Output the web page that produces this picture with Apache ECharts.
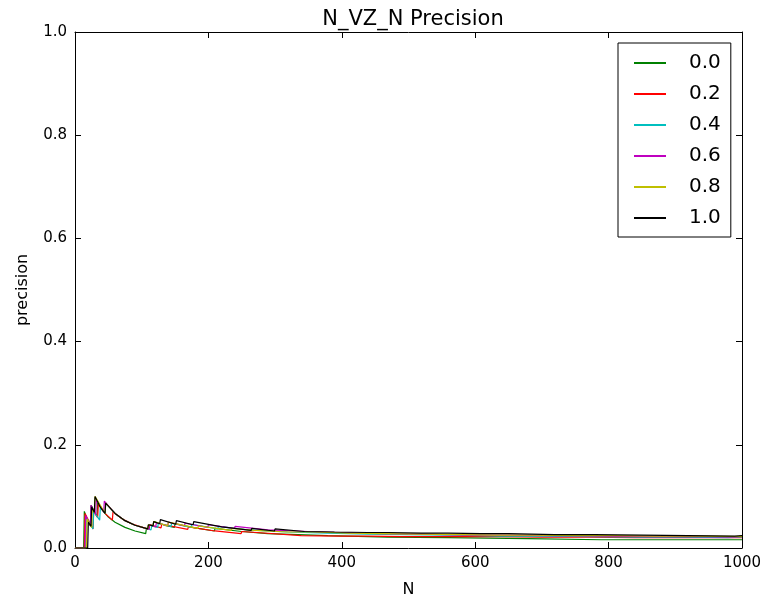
<!DOCTYPE html>
<html>
<head>
<meta charset="utf-8">
<title>N_VZ_N Precision</title>
<script src="https://cdn.jsdelivr.net/npm/echarts@6/dist/echarts.min.js"></script>
<style>
  html, body { margin: 0; padding: 0; background: #fff; }
  #chart { width: 765px; height: 600px; }
</style>
</head>
<body>
<div id="chart"></div>
<script>
// legend names
var names = ['0.0', '0.2', '0.4', '0.6', '0.8', '1.0'];
var colors = ['#008000', '#ff0000', '#00bfbf', '#bf00bf', '#bfbf00', '#000000'];

// [N, precision]
var p00 = [[0,0],[13,0],[14,0.071],[18,0.056],[23,0.043],[24,0.083],[33,0.061],[34,0.088],[40,0.075],[50,0.06],[60,0.05],[75,0.04],[90,0.033],[106,0.028],[107,0.037],[111,0.036],[112,0.045],[117,0.043],[118,0.051],[135,0.044],[149,0.04],[150,0.047],[180,0.039],[209,0.033],[210,0.038],[250,0.032],[289,0.028],[290,0.031],[379,0.024],[380,0.026],[469,0.021],[470,0.023],[559,0.02],[560,0.021],[679,0.018],[680,0.019],[789,0.016],[790,0.018],[879,0.016],[880,0.017],[959,0.016],[960,0.017],[1000,0.016]];
var p02 = [[0,0],[14,0],[15,0.067],[27,0.037],[28,0.071],[34,0.059],[35,0.086],[45,0.067],[56,0.054],[57,0.07],[70,0.057],[85,0.047],[111,0.036],[112,0.045],[129,0.039],[130,0.046],[169,0.036],[170,0.041],[210,0.033],[249,0.028],[250,0.032],[339,0.024],[340,0.026],[399,0.023],[400,0.025],[439,0.023],[440,0.025],[489,0.022],[490,0.024],[539,0.022],[540,0.024],[589,0.022],[590,0.024],[639,0.022],[640,0.023],[699,0.021],[700,0.023],[769,0.021],[770,0.022],[839,0.02],[840,0.021],[909,0.02],[910,0.021],[969,0.02],[970,0.021],[1000,0.02]];
var p04 = [[0,0],[16,0],[17,0.059],[27,0.037],[28,0.071],[37,0.054],[38,0.079],[45,0.067],[46,0.087],[60,0.067],[75,0.053],[90,0.044],[114,0.035],[115,0.043],[124,0.04],[125,0.048],[144,0.042],[145,0.048],[174,0.04],[175,0.046],[214,0.037],[215,0.042],[259,0.035],[260,0.038],[319,0.031],[320,0.034],[379,0.029],[380,0.032],[439,0.027],[440,0.03],[499,0.026],[500,0.028],[569,0.025],[570,0.026],[639,0.023],[640,0.025],[709,0.023],[710,0.024],[779,0.022],[780,0.023],[849,0.021],[850,0.022],[919,0.021],[920,0.022],[979,0.02],[980,0.021],[1000,0.021]];
var p06 = [[0,0],[15,0],[16,0.063],[23,0.043],[24,0.083],[31,0.065],[32,0.094],[43,0.07],[44,0.091],[60,0.067],[75,0.053],[90,0.044],[111,0.036],[112,0.045],[121,0.041],[122,0.049],[139,0.043],[140,0.05],[164,0.043],[165,0.048],[199,0.04],[200,0.045],[239,0.038],[240,0.042],[289,0.035],[290,0.038],[349,0.032],[350,0.034],[399,0.03],[400,0.033],[459,0.028],[460,0.03],[519,0.027],[520,0.029],[589,0.025],[590,0.027],[649,0.025],[650,0.026],[719,0.024],[720,0.025],[789,0.023],[790,0.024],[859,0.022],[860,0.023],[929,0.022],[930,0.023],[989,0.021],[990,0.022],[1000,0.022]];
var p08 = [[0,0],[17,0],[18,0.056],[25,0.04],[26,0.077],[29,0.069],[30,0.1],[45,0.067],[46,0.087],[60,0.067],[75,0.053],[90,0.044],[109,0.037],[110,0.045],[117,0.043],[118,0.051],[139,0.043],[140,0.05],[184,0.038],[185,0.043],[234,0.034],[235,0.038],[269,0.034],[270,0.037],[319,0.031],[320,0.034],[359,0.031],[360,0.033],[409,0.029],[410,0.032],[459,0.028],[460,0.03],[519,0.027],[520,0.029],[579,0.026],[580,0.028],[629,0.025],[630,0.027],[689,0.025],[690,0.026],[749,0.024],[750,0.025],[809,0.024],[810,0.025],[869,0.023],[870,0.024],[929,0.023],[930,0.024],[1000,0.022]];
var p10 = [[0,0],[19,0],[20,0.05],[24,0.042],[25,0.08],[29,0.069],[30,0.1],[38,0.079],[45,0.067],[46,0.087],[60,0.067],[75,0.053],[90,0.044],[109,0.037],[110,0.045],[117,0.043],[118,0.051],[127,0.047],[128,0.055],[151,0.046],[152,0.053],[177,0.045],[178,0.051],[220,0.041],[264,0.034],[265,0.038],[299,0.033],[300,0.037],[344,0.032],[345,0.035],[389,0.031],[390,0.033],[439,0.03],[440,0.032],[469,0.03],[470,0.032],[519,0.029],[520,0.031],[559,0.029],[560,0.03],[609,0.028],[610,0.03],[649,0.028],[650,0.029],[719,0.026],[720,0.028],[779,0.026],[780,0.027],[849,0.025],[850,0.026],[919,0.024],[920,0.025],[989,0.023],[990,0.024],[1000,0.024]];

var lines = [p00, p02, p04, p06, p08, p10];

var myChart = echarts.init(document.getElementById('chart'));

var font = 'DejaVu Sans';
var tickStyle = { show: true, inside: true, length: 6, lineStyle: { color: '#000', width: 1 } };
var lineStyleAx = { show: true, onZero: false, lineStyle: { color: '#000', width: 1 } };

var series = [];
for (var i = 0; i < lines.length; i++) {
  series.push({
    type: 'line',
    name: names[i],
    data: lines[i],
    symbol: 'none',
    animation: false,
    lineStyle: { color: colors[i], width: 1.2 },
    itemStyle: { color: colors[i] }
  });
}

var option = {
  backgroundColor: '#fff',
  animation: false,
  title: {
    text: 'N_VZ_N Precision',
    left: 408,
    textAlign: 'center',
    top: 4,
    textStyle: { fontFamily: font, fontSize: 21, fontWeight: 'normal', color: '#000' }
  },
  grid: { left: 75, right: 23, top: 32, bottom: 52, outerBoundsMode: 'none' },
  legend: {
    orient: 'vertical',
    left: 618,
    top: 43,
    padding: [10, 10, 9, 15],
    itemGap: 11,
    itemWidth: 32,
    itemHeight: 14,
    borderColor: '#000',
    borderWidth: 1,
    borderRadius: 0,
    backgroundColor: '#fff',
    itemStyle: { opacity: 0 },
    textStyle: { fontFamily: font, fontSize: 20, color: '#000', padding: [0, 0, 0, 18] },
    data: names
  },
  xAxis: [{
    type: 'value',
    min: 0, max: 1000, interval: 200,
    name: 'N',
    nameLocation: 'middle',
    nameGap: 34,
    nameTextStyle: { fontFamily: font, fontSize: 16, color: '#000' },
    axisLine: lineStyleAx,
    axisTick: tickStyle,
    splitLine: { show: false },
    axisLabel: {
      fontFamily: font, fontSize: 15, color: '#000', margin: 8,
      formatter: function (v) { return String(v); }
    }
  }, {
    type: 'value',
    position: 'top',
    min: 0, max: 1000, interval: 200,
    axisLine: lineStyleAx,
    axisTick: tickStyle,
    splitLine: { show: false },
    axisLabel: { show: false }
  }],
  yAxis: [{
    type: 'value',
    min: 0, max: 1, interval: 0.2,
    name: 'precision',
    nameLocation: 'middle',
    nameGap: 44,
    nameTextStyle: { fontFamily: font, fontSize: 16, color: '#000' },
    axisLine: lineStyleAx,
    axisTick: tickStyle,
    splitLine: { show: false },
    axisLabel: {
      fontFamily: font, fontSize: 15, color: '#000', margin: 8,
      formatter: function (v) { return v.toFixed(1); }
    }
  }, {
    type: 'value',
    position: 'right',
    min: 0, max: 1, interval: 0.2,
    axisLine: lineStyleAx,
    axisTick: tickStyle,
    splitLine: { show: false },
    axisLabel: { show: false }
  }],
  series: series
};

myChart.setOption(option);
</script>
</body>
</html>
